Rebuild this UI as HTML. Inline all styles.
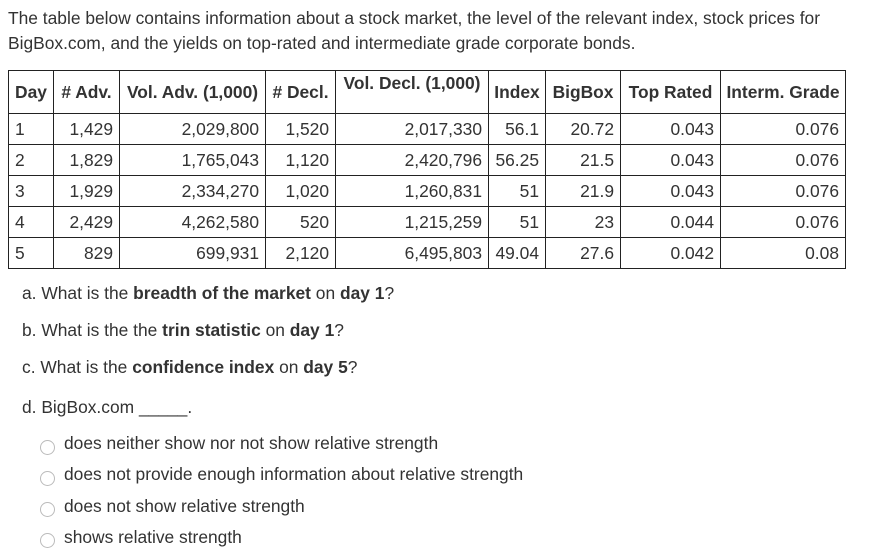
<!DOCTYPE html>
<html><head><meta charset="utf-8"><style>
body{margin:0;width:878px;height:556px;background:#fff;font-family:"Liberation Sans",Arial,sans-serif;color:#333;font-size:17.4px;position:relative;overflow:hidden}
.p{position:absolute;white-space:nowrap}
table{position:absolute;left:8px;top:70px;border-collapse:collapse;table-layout:fixed}
td,th{border:1px solid #222;padding:0 6px;font-size:17.4px;color:#333;height:30px;line-height:18px;white-space:nowrap}
th{height:39px;font-weight:bold;text-align:center;padding:0 3px}
td{text-align:right}
td:first-child{text-align:left}
.radio{position:absolute;left:40px;width:13px;height:13px;border:1.5px solid #bbb;border-radius:50%}
</style></head><body>
<div class="p" style="left:8px;top:6px;line-height:25px">The table below contains information about a stock market, the level of the relevant index, stock prices for<br>BigBox.com, and the yields on top-rated and intermediate grade corporate bonds.</div>
<table>
<colgroup><col style="width:45px"><col style="width:66px"><col style="width:146px"><col style="width:70px"><col style="width:153px"><col style="width:57px"><col style="width:75px"><col style="width:100px"><col style="width:125px"></colgroup>
<tr><th>Day</th><th># Adv.</th><th>Vol. Adv. (1,000)</th><th># Decl.</th><th style="vertical-align:top;padding-top:3px">Vol. Decl. (1,000)</th><th>Index</th><th>BigBox</th><th>Top Rated</th><th>Interm. Grade</th></tr>
<tr><td>1</td><td>1,429</td><td>2,029,800</td><td>1,520</td><td>2,017,330</td><td>56.1</td><td>20.72</td><td>0.043</td><td>0.076</td></tr>
<tr><td>2</td><td>1,829</td><td>1,765,043</td><td>1,120</td><td>2,420,796</td><td>56.25</td><td>21.5</td><td>0.043</td><td>0.076</td></tr>
<tr><td>3</td><td>1,929</td><td>2,334,270</td><td>1,020</td><td>1,260,831</td><td>51</td><td>21.9</td><td>0.043</td><td>0.076</td></tr>
<tr><td>4</td><td>2,429</td><td>4,262,580</td><td>520</td><td>1,215,259</td><td>51</td><td>23</td><td>0.044</td><td>0.076</td></tr>
<tr><td>5</td><td>829</td><td>699,931</td><td>2,120</td><td>6,495,803</td><td>49.04</td><td>27.6</td><td>0.042</td><td>0.08</td></tr>
</table>
<div class="p" style="left:22px;top:283px">a. What is the <b>breadth of the market</b> on <b>day 1</b>?</div>
<div class="p" style="left:22px;top:320px">b. What is the the <b>trin statistic</b> on <b>day 1</b>?</div>
<div class="p" style="left:22px;top:357px">c. What is the <b>confidence index</b> on <b>day 5</b>?</div>
<div class="p" style="left:22px;top:397px">d. BigBox.com _____.</div>
<div class="radio" style="top:440px"></div>
<div class="p" style="left:64px;top:433px">does neither show nor not show relative strength</div>
<div class="radio" style="top:471px"></div>
<div class="p" style="left:64px;top:464px">does not provide enough information about relative strength</div>
<div class="radio" style="top:502px"></div>
<div class="p" style="left:64px;top:496px">does not show relative strength</div>
<div class="radio" style="top:533px"></div>
<div class="p" style="left:64px;top:527px">shows relative strength</div>
</body></html>
